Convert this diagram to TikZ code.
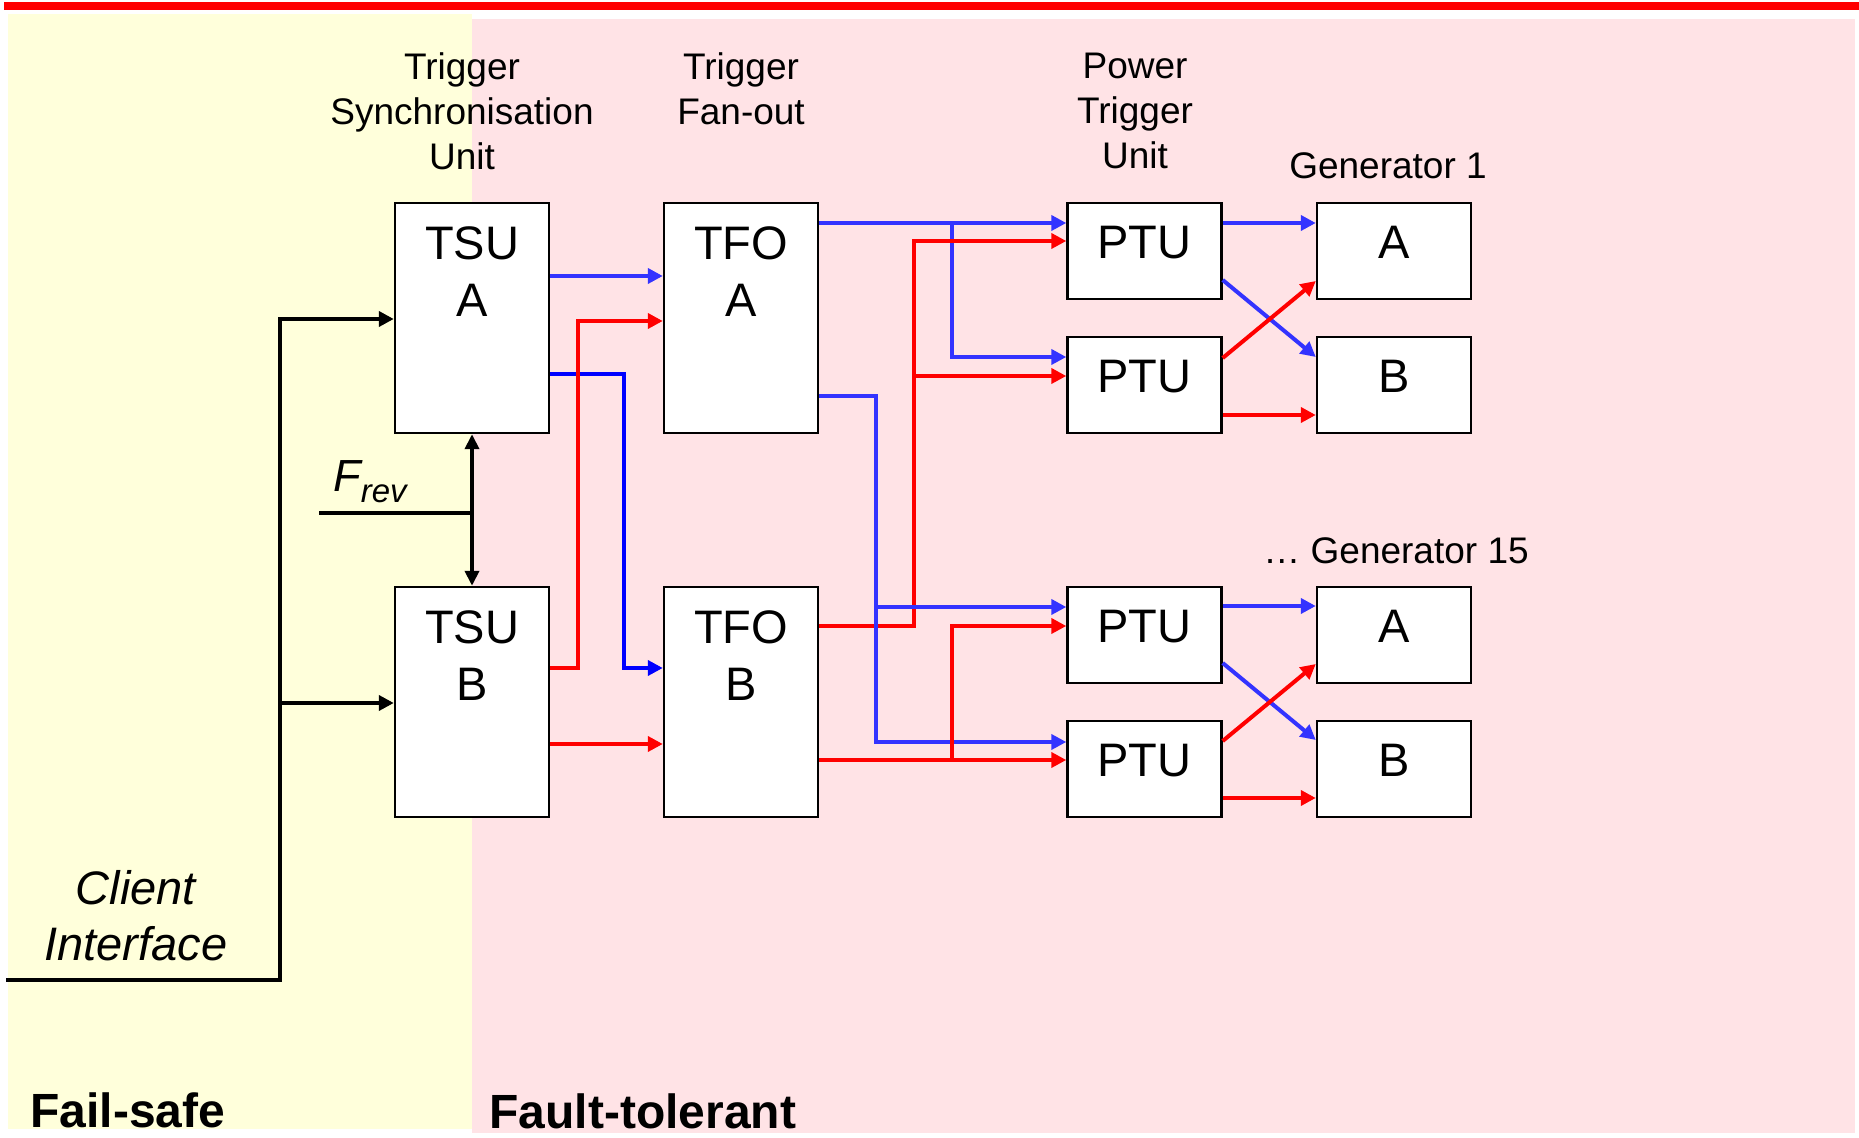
\documentclass[tikz,border=0pt]{standalone}
\usepackage{fontspec}
\setmainfont{Liberation Sans}
\usetikzlibrary{arrows.meta,positioning}
\definecolor{bgyel}{RGB}{255,255,219}
\definecolor{bgpink}{RGB}{255,227,230}
\definecolor{lblue}{RGB}{51,51,255}
\definecolor{dblue}{RGB}{0,0,255}
\definecolor{lred}{RGB}{255,0,0}
\begin{document}
\begin{tikzpicture}[x=0.5pt,y=-0.5pt,
  box/.style={draw=black,line width=1.2pt,fill=white,minimum width=77pt,inner sep=0pt},
  tall/.style={box,minimum height=115pt},
  short/.style={box,minimum height=48pt},
  btxt/.style={font=\fontsize{23.5}{28.5}\selectfont,align=center,inner sep=0pt,anchor=north},
  hdr/.style={font=\fontsize{18.5}{22.5}\selectfont,align=center,inner sep=0pt},
  wire/.style={line width=2pt},
  tip/.style={-{Triangle[length=7.5pt,width=7.5pt]}},
  blk/.style={wire,black},
  bl/.style={wire,lblue},
  rd/.style={wire,lred},
]
\useasboundingbox (0,0) rectangle (1859,1138);
\fill[white] (0,0) rectangle (1859,1138);
\fill[lred] (4,2) rectangle (1859,10);
\fill[bgyel] (8,14) rectangle (472,1129);
\fill[bgpink] (472,19) rectangle (1855,1133);

% region labels
\begin{scope}
\clip (8,14) rectangle (472,1129);
\node[anchor=base west,inner sep=0pt,font=\fontsize{24}{28}\selectfont\bfseries] (fs) at (30,1127) {Fail-safe};
\end{scope}
\begin{scope}
\clip (472,19) rectangle (1855,1133);
\node[anchor=base west,inner sep=0pt,font=\fontsize{24}{28}\selectfont\bfseries] (ft) at (489,1128) {Fault-tolerant};
\end{scope}

% headers
\node[hdr,anchor=north] (h1) at (462,52.5) {Trigger\\Synchronisation\\Unit};
\node[hdr,anchor=north] (h2) at (741,52.5) {Trigger\\Fan-out};
\node[hdr,anchor=north] (h3) at (1135,52.5) {Power\\Trigger\\Unit};
\node[hdr,anchor=base] (g1) at (1388,179) {Generator 1};
\node[hdr,anchor=base west] (g15) at (1263,564) {… Generator 15};

% boxes
\node[tall] (tsua) at (472,318) {};
\node[tall] (tsub) at (472,702) {};
\node[tall] (tfoa) at (741,318) {};
\node[tall] (tfob) at (741,702) {};
\node[short] (ptu1) at (1144.5,251) {};
\node[short] (ptu2) at (1144.5,385) {};
\node[short] (ptu3) at (1144.5,635) {};
\node[short] (ptu4) at (1144.5,769) {};
\node[short] (gena1) at (1394,251) {};
\node[short] (genb1) at (1394,385) {};
\node[short] (gena15) at (1394,635) {};
\node[short] (genb15) at (1394,769) {};

\node[btxt,below=12.2pt of tsua.north] (ttsua) {TSU\\A};
\node[btxt,below=12.2pt of tsub.north] (ttsub) {TSU\\B};
\node[btxt,below=12.2pt of tfoa.north] (ttfoa) {TFO\\A};
\node[btxt,below=12.2pt of tfob.north] (ttfob) {TFO\\B};
\node[btxt,below=12.2pt of ptu1.north] (tptu1) {PTU};
\node[btxt,below=12.2pt of ptu2.north] (tptu2) {PTU};
\node[btxt,below=12.2pt of ptu3.north] (tptu3) {PTU};
\node[btxt,below=12.2pt of ptu4.north] (tptu4) {PTU};
\node[btxt,below=12.2pt of gena1.north] (tga1) {A};
\node[btxt,below=12.2pt of genb1.north] (tgb1) {B};
\node[btxt,below=12.2pt of gena15.north] (tga15) {A};
\node[btxt,below=12.2pt of genb15.north] (tgb15) {B};

% client interface
\node[font=\fontsize{23.5}{28}\selectfont\itshape,align=center,anchor=north,inner sep=0pt] (cil) at (136,870) {Client\\Interface};
\coordinate (ci) at (6,980);
\coordinate (cij) at (280,980);
\draw[blk,tip] (ci) -- (cij) |- (tsua.west |- 0,319);
\draw[blk,tip] (cij |- 0,703) -- (tsub.west |- 0,703);

% Frev
\node[anchor=base west,inner sep=0pt,font=\fontsize{22.5}{27}\selectfont\itshape] (frevl) at (333,492) {F\raisebox{-5.5pt}{\fontsize{16.5}{20}\selectfont rev}};
\coordinate (fr) at (319,513);
\draw[blk] (fr) -- (tsua.south |- fr);
\draw[blk,{Triangle[length=7.5pt,width=7pt]}-{Triangle[length=7.5pt,width=7pt]}] (tsua.south) -- (tsub.north);

% TSU -> TFO
\draw[bl,tip] (tsua.east |- 0,276) -- (tfoa.west |- 0,276);
\draw[wire,dblue,tip] (tsua.east |- 0,374) -| (624,668) -- (tfob.west |- 0,668);
\draw[rd,tip] (tsub.east |- 0,668) -| (578,321) -- (tfoa.west |- 0,321);
\draw[rd,tip] (tsub.east |- 0,744) -- (tfob.west |- 0,744);

% TFO -> PTU
\coordinate (jb1) at (952,223);
\coordinate (jb2) at (876,607);
\coordinate (jr1) at (914,376);
\coordinate (jr2) at (952,760);
\draw[bl,tip] (tfoa.east |- jb1) -- (ptu1.west |- jb1);
\draw[bl,tip] (jb1) |- (ptu2.west |- 0,357);
\draw[rd,tip] (tfob.east |- 0,626) -| (914,241) -- (ptu1.west |- 0,241);
\draw[rd,tip] (jr1) -- (ptu2.west |- jr1);
\draw[bl,tip] (tfoa.east |- 0,396) -| (876,742) -- (ptu4.west |- 0,742);
\draw[bl,tip] (jb2) -- (ptu3.west |- jb2);
\draw[rd,tip] (tfob.east |- jr2) -- (ptu4.west |- jr2);
\draw[rd,tip] (jr2) |- (ptu3.west |- 0,626);

% PTU -> generators
\draw[bl,tip] (ptu1.east |- 0,223) -- (gena1.west |- 0,223);
\draw[bl,tip] (ptu1.east |- 0,280) -- (genb1.west |- 0,357);
\draw[rd,tip] (ptu2.east |- 0,358) -- (gena1.west |- 0,281);
\draw[rd,tip] (ptu2.east |- 0,415) -- (genb1.west |- 0,415);

\draw[bl,tip] (ptu3.east |- 0,606) -- (gena15.west |- 0,606);
\draw[bl,tip] (ptu3.east |- 0,663) -- (genb15.west |- 0,740);
\draw[rd,tip] (ptu4.east |- 0,741) -- (gena15.west |- 0,664);
\draw[rd,tip] (ptu4.east |- 0,798) -- (genb15.west |- 0,798);
\end{tikzpicture}
\end{document}
